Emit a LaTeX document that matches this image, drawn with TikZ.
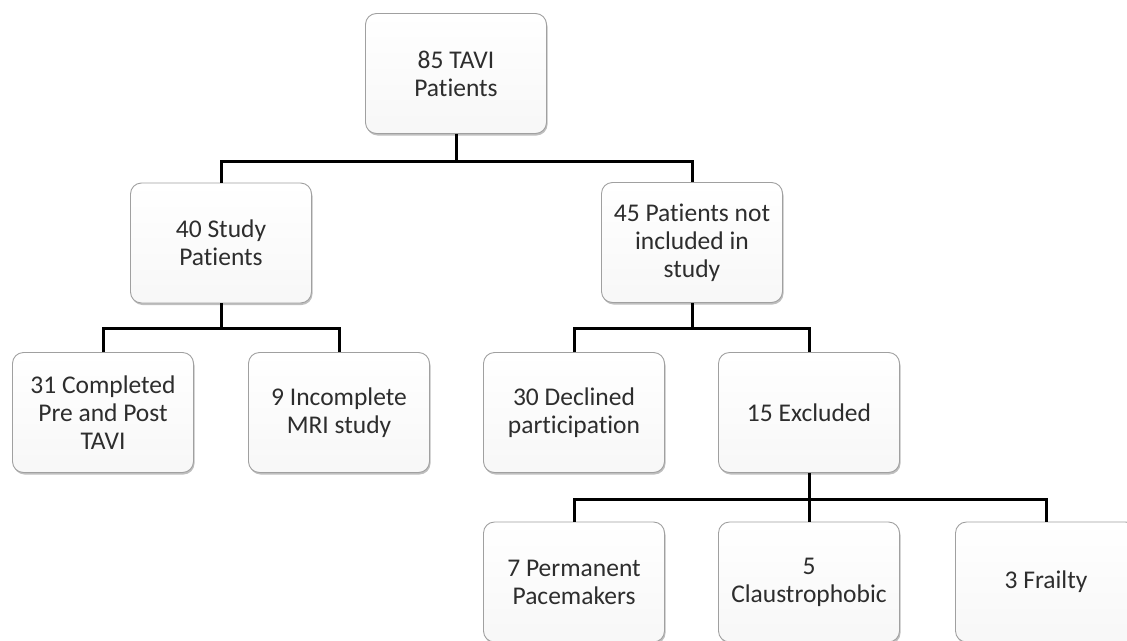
\documentclass[tikz,border=0pt]{standalone}
\usepackage{fontspec}
\setmainfont[Ligatures=NoCommon]{Carlito}
\usepackage{tikz}
\usetikzlibrary{shadows}
\definecolor{boxline}{RGB}{160,160,160}
\definecolor{boxtext}{RGB}{45,45,45}

\begin{document}
\begin{tikzpicture}[x=1pt, y=-1pt,
  box/.style={rectangle, rounded corners=11pt, draw=boxline, line width=0.9pt,
    top color=white, bottom color=black!3, minimum width=181pt, minimum height=120pt,
    align=center, inner sep=2pt, text=boxtext, font=\fontsize{25.5}{28}\selectfont,
    drop shadow={shadow xshift=1pt, shadow yshift=-2pt, opacity=0.25, fill=black}},
  link/.style={line width=3pt, black}]
  \clip (0,0) rectangle (1127,640);
  \useasboundingbox (0,0) rectangle (1127,640);
  % levels of the tree
  \node[box] (tavi) at (456,73.5) {85 TAVI\\Patients};
  \node[box] (study) at (221,243) {40 Study\\Patients};
  \node[box] (notincl) at (692,242.5) {45 Patients not\\included in\\study};
  \node[box] (completed) at (103,412.5) {31 Completed\\Pre and Post\\TAVI};
  \node[box] (incomplete) at (339,412.5) {9 Incomplete\\MRI study};
  \node[box] (declined) at (574,412.5) {30 Declined\\participation};
  \node[box] (excluded) at (809,412.5) {15 Excluded};
  \node[box] (pacemakers) at (574,582) {7 Permanent\\Pacemakers};
  \node[box] (claustro) at (809,582) {5\\Claustrophobic};
  \node[box] (frailty) at (1046,582) {3 Frailty};
  % junctions
  \coordinate (j1) at (456,161);
  \coordinate (j2) at (221,328);
  \coordinate (j3) at (692,328);
  \coordinate (j4) at (809,499);
  \draw[link] (tavi.south) -- (j1);
  \draw[link] (study.north) |- (j1) -| (notincl.north);
  \draw[link] (study.south) -- (j2);
  \draw[link] (completed.north) |- (j2) -| (incomplete.north);
  \draw[link] (notincl.south) -- (j3);
  \draw[link] (declined.north) |- (j3) -| (excluded.north);
  \draw[link] (excluded.south) -- (claustro.north);
  \draw[link] (pacemakers.north) |- (j4) -| (frailty.north);
\end{tikzpicture}
\end{document}
